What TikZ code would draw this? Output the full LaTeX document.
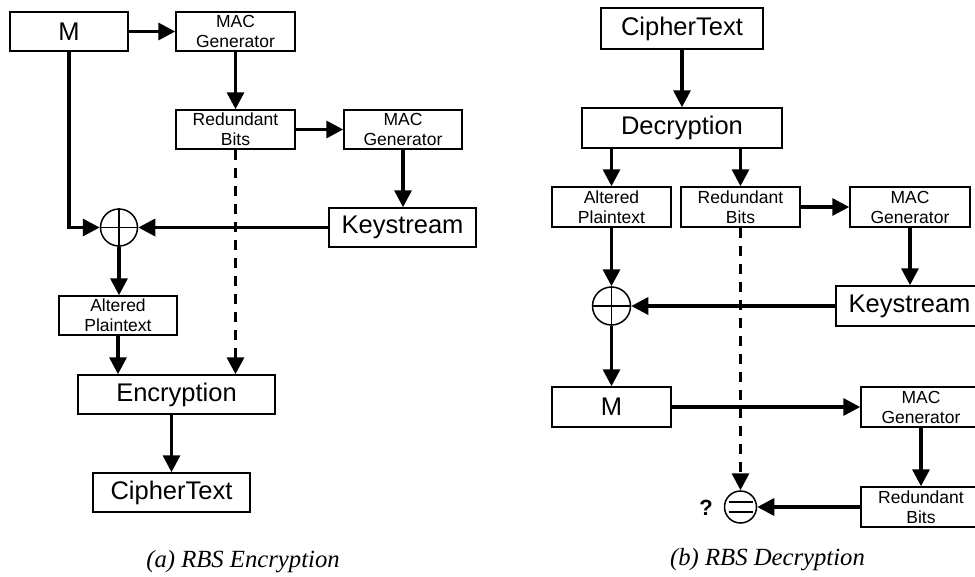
\documentclass[tikz,border=0pt]{standalone}
\usepackage{fontspec}
\setmainfont{Liberation Sans}
\newfontfamily\capfont{Liberation Serif}
\usetikzlibrary{arrows.meta}
\begin{document}
\begin{tikzpicture}[x=1pt,y=-1pt,
  box/.style={draw,line width=1.5pt,inner sep=0pt,align=center},
  bigbox/.style={box,font=\fontsize{25.5}{28}\selectfont},
  smallbox/.style={box,font=\fontsize{17.5}{20}\selectfont},
  flow/.style={line width=3.4pt,-{Triangle[length=17pt,width=17pt]}},
  dflow/.style={flow,dash pattern=on 10pt off 8pt},
  opnode/.style={draw,circle,line width=1.5pt,inner sep=0pt},
  caption/.style={font=\capfont\itshape\fontsize{24.7}{27}\selectfont}]
\useasboundingbox (0,0) rectangle (975,576);
\clip (0,0) rectangle (975,576);
% ---------- (a) Encryption ----------
\node[bigbox,minimum width=118pt,minimum height=39pt] (Ma) at (69,31.5) {M};
\node[smallbox,minimum width=119pt,minimum height=39pt] (MACa) at (235.5,31.5) {MAC\\Generator};
\node[smallbox,minimum width=119pt,minimum height=39pt] (RBa) at (235.5,129.5) {Redundant\\Bits};
\node[smallbox,minimum width=118pt,minimum height=39pt] (MACb) at (403,129.5) {MAC\\Generator};
\node[bigbox,minimum width=147pt,minimum height=39pt] (KSa) at (402.5,227.5) {Keystream};
\node[opnode,minimum size=37pt] (XORa) at (119,227.5) {};
\draw[line width=1.5pt] (XORa.north) -- (XORa.south) (XORa.west) -- (XORa.east);
\node[smallbox,minimum width=118pt,minimum height=39pt] (APa) at (118,315.5) {Altered\\Plaintext};
\node[bigbox,minimum width=197pt,minimum height=39pt] (Enc) at (176.5,394.5) {Encryption};
\node[bigbox,minimum width=157pt,minimum height=39pt] (CTa) at (171.5,492.5) {CipherText};
\node[caption] (capa) at (243,562) {(a) RBS Encryption};
\draw[flow] (Ma.east) -- (MACa.west);
\draw[flow] (MACa.south) -- (RBa.north);
\draw[flow] (RBa.east) -- (MACb.west);
\draw[flow] (MACb.south) -- (MACb.south |- KSa.north);
\draw[flow] (Ma.south) |- (XORa.west);
\draw[flow] (KSa.west) -- (XORa.east);
\draw[flow] (XORa.south) -- (XORa.south |- APa.north);
\draw[flow] (APa.south) -- (APa.south |- Enc.north);
\draw[dflow] (RBa.south) -- (RBa.south |- Enc.north);
\draw[flow] (CTa.north |- Enc.south) -- (CTa.north);
% ---------- (b) Decryption ----------
\node[bigbox,minimum width=162pt,minimum height=41pt] (CTb) at (682,28.5) {CipherText};
\node[bigbox,minimum width=200pt,minimum height=40pt] (Dec) at (682,128) {Decryption};
\node[smallbox,minimum width=119pt,minimum height=40pt] (APb) at (611.5,207) {Altered\\Plaintext};
\node[smallbox,minimum width=119pt,minimum height=40pt] (RBb) at (740.5,207) {Redundant\\Bits};
\node[smallbox,minimum width=120pt,minimum height=40pt] (MACc) at (910,207) {MAC\\Generator};
\node[bigbox,minimum width=147pt,minimum height=40pt] (KSb) at (909.5,306) {Keystream};
\node[opnode,minimum size=38pt] (XORb) at (611.5,306) {};
\draw[line width=1.5pt] (XORb.north) -- (XORb.south) (XORb.west) -- (XORb.east);
\node[bigbox,minimum width=119pt,minimum height=40pt] (Mb) at (611.5,407) {M};
\node[smallbox,minimum width=120pt,minimum height=40pt] (MACd) at (921,407) {MAC\\Generator};
\node[smallbox,minimum width=120pt,minimum height=40pt] (RBc) at (921,507) {Redundant\\Bits};
\node[opnode,minimum size=32pt] (EQ) at (740.5,507) {};
\draw[line width=1.5pt] ([xshift=-12pt,yshift=-5pt]EQ.center) -- ([xshift=12pt,yshift=-5pt]EQ.center)
                        ([xshift=-12pt,yshift=5pt]EQ.center) -- ([xshift=12pt,yshift=5pt]EQ.center);
\node[font=\bfseries\fontsize{22}{24}\selectfont] (Q) at (706,508) {?};
\node[caption] (capb) at (767.5,560) {(b) RBS Decryption};
\draw[flow] (CTb.south) -- (Dec.north);
\draw[flow] (APb.north |- Dec.south) -- (APb.north);
\draw[flow] (RBb.north |- Dec.south) -- (RBb.north);
\draw[flow] (RBb.east) -- (MACc.west);
\draw[flow] (MACc.south) -- (MACc.south |- KSb.north);
\draw[flow] (APb.south) -- (XORb.north);
\draw[flow] (KSb.west) -- (XORb.east);
\draw[flow] (XORb.south) -- (Mb.north);
\draw[flow] (Mb.east) -- (MACd.west);
\draw[flow] (MACd.south) -- (RBc.north);
\draw[flow] (RBc.west) -- (EQ.east);
\draw[dflow] (RBb.south) -- (EQ.north);
\end{tikzpicture}
\end{document}
